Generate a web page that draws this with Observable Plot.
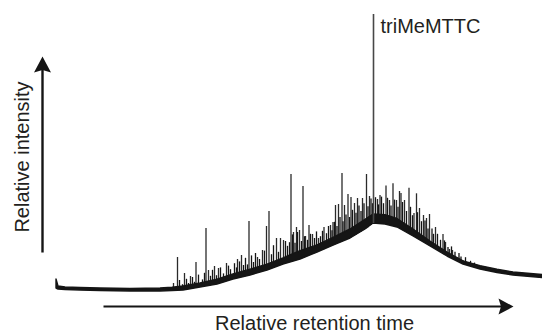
<!DOCTYPE html>
<html><head><meta charset="utf-8">
<script src="https://cdn.jsdelivr.net/npm/d3@7"></script>
<script src="https://cdn.jsdelivr.net/npm/@observablehq/plot@0.6"></script>
<style>html,body{margin:0;padding:0;background:#fff;} svg{display:block;}</style>
</head><body><div id="chart"></div>
<script>
// Chromatogram core trace (relative retention time 0-100, relative intensity 0-100)
const envTime = [2.8, 3.2, 4.6, 7.6, 11.6, 17.6, 23.6, 26, 28.2, 31.6, 35, 38.2, 41.6, 45, 48.2, 51.6, 55, 58.2, 61.6, 64.6, 66.2, 68.6, 71, 74.2, 77.6, 81, 84.2, 87.6, 91, 94.2, 100];
const envLow = [7.33, 7.0, 6.83, 6.67, 6.5, 6.33, 6.33, 6.5, 6.67, 7.67, 8.67, 10.33, 11.67, 13.33, 15.33, 17.0, 19.33, 21.67, 24.0, 27.0, 29.0, 28.67, 27.67, 24.67, 21.33, 18.0, 15.33, 13.67, 12.5, 11.67, 10.83];
const envHigh = [10.33, 8.0, 7.67, 7.5, 7.33, 7.17, 7.33, 7.6, 8.0, 9.0, 10.3, 12.0, 13.6, 15.3, 17.4, 19.8, 21.7, 24.2, 27.0, 30.2, 32.0, 31.8, 30.5, 27.0, 23.0, 19.3, 16.4, 14.8, 13.6, 12.67, 11.83];

// Unresolved noise peaks riding on the hump (retention time, apex intensity)
const noiseTime = [27.4, 28.0, 28.8, 29.2, 30.0, 30.4, 31.2, 32.0, 32.4, 33.6, 34.0, 34.8, 35.6, 36.2, 37.2, 37.6, 38.4, 38.8, 39.4, 40.2, 40.6, 41.0, 41.8, 42.2, 42.6, 43.4, 44.4, 45.8, 46.2, 47.2, 48.6, 49.0, 49.4, 50.0, 50.5, 51.0, 51.8, 52.4, 53.0, 53.6, 54.4, 54.8, 55.6, 56.0, 56.8, 57.2, 57.9, 58.4, 58.9, 59.5, 60.1, 60.7, 61.4, 62.0, 62.7, 63.3, 63.7, 64.3, 65.1, 65.7, 66.0, 66.6, 67.2, 67.8, 68.2, 69.0, 69.7, 70.4, 71.1, 72.0, 72.8, 73.6, 74.0, 75.0, 75.8, 76.5, 77.1, 77.9, 78.2, 79.0, 79.6, 80.4, 81.1, 81.8, 82.5, 83.3, 83.7, 84.6, 85.6, 86.4];
const noiseTop = [10.0, 8.6, 10.4, 9.0, 11.0, 9.4, 11.8, 10.2, 12.4, 11.4, 13.4, 11.6, 14.2, 12.2, 14.8, 13.6, 15.6, 14.2, 16.2, 15.0, 17.4, 15.2, 18.2, 16.0, 19.0, 17.0, 19.8, 18.6, 21.6, 19.4, 23.0, 21.4, 22.6, 25.2, 22.4, 26.0, 23.0, 24.6, 23.4, 25.4, 24.0, 26.2, 24.6, 26.4, 25.6, 28.0, 26.6, 29.4, 28.0, 31.0, 29.6, 31.8, 31.0, 33.4, 32.4, 34.8, 33.0, 35.6, 34.6, 37.2, 35.6, 37.6, 35.2, 37.8, 35.6, 37.4, 34.8, 36.8, 34.4, 36.0, 33.0, 34.4, 31.6, 32.6, 29.6, 29.8, 27.2, 27.2, 25.4, 25.4, 23.4, 23.2, 21.0, 21.2, 19.4, 19.0, 17.8, 17.6, 16.4, 15.8];

// Resolved peaks (retention time, apex intensity)
const peakTime = [26.2, 27.0, 28.4, 29.6, 30.7, 32.7, 33.2, 34.4, 35.2, 36.8, 39.0, 39.8, 41.3, 43.0, 44.0, 44.8, 45.3, 46.8, 47.6, 48.2, 49.7, 50.2, 50.8, 51.4, 52.1, 52.6, 53.3, 54.0, 55.2, 56.3, 57.6, 58.1, 58.6, 59.2, 59.9, 60.4, 61.1, 61.7, 62.4, 63.0, 64.0, 64.8, 65.4, 67.0, 67.5, 68.7, 69.4, 70.1, 70.8, 71.4, 71.7, 72.4, 73.3, 74.3, 74.8, 75.4, 76.2, 76.8, 77.4, 78.6, 80.1, 80.6, 81.4, 82.0, 82.9, 84.1, 85.2, 86.0];
const peakTop = [9.0, 17.67, 12.33, 11.33, 16.0, 27.33, 13.33, 14.67, 14.0, 15.67, 17.0, 18.33, 29.67, 17.67, 20.0, 28.0, 33.0, 24.0, 24.0, 23.33, 45.33, 26.0, 27.67, 26.67, 41.33, 24.67, 28.33, 25.33, 24.0, 27.67, 28.33, 29.33, 35.0, 35.33, 45.67, 35.0, 38.67, 37.67, 35.67, 37.33, 37.33, 45.33, 38.0, 37.0, 38.33, 41.5, 36.67, 42.23, 36.67, 39.67, 39.0, 36.67, 40.77, 32.33, 38.9, 34.0, 31.67, 30.67, 32.0, 27.67, 25.33, 22.67, 20.33, 20.0, 17.67, 16.67, 16.0, 15.67];

// Labelled compound
const mainName = "triMeMTTC";
const mainTime = 66.2;
const mainTop = 98.67;

// Axis titles
const xTitle = "Relative retention time";
const yTitle = "Relative intensity";

const envelope = envTime.map((t, i) => ({t, lo: envLow[i], hi: envHigh[i]}));
const baseAt = d3.scaleLinear().domain(envTime).range(envLow);
const noise = noiseTime.map((t, i) => ({t, top: noiseTop[i], base: baseAt(t)}));
const peaks = peakTime.map((t, i) => ({t, top: peakTop[i], base: baseAt(t)}));
const main = [{name: mainName, t: mainTime, top: mainTop, base: baseAt(mainTime)}];

const yArrow = [{t: 0, from: 19.33, shaftTo: 81.5, tip: 84.67}];
const xArrow = [{y: 1.33, from: 12.2, shaftTo: 92.0, tip: 94.2}];

const headUp = {draw(ctx) { ctx.moveTo(0, 0); ctx.lineTo(8.5, 16); ctx.lineTo(0, 13.5); ctx.lineTo(-8.5, 16); ctx.closePath(); }};
const headRight = {draw(ctx) { ctx.moveTo(0, 0); ctx.lineTo(-15, -8); ctx.lineTo(-12.5, 0); ctx.lineTo(-15, 8); ctx.closePath(); }};

const ink = "#151515";
const textInk = "#231f20";

const chart = Plot.plot({
  width: 542,
  height: 334,
  margin: 0,
  style: {fontFamily: "'Liberation Sans', Arial, sans-serif", background: "#fff"},
  x: {domain: [0, 100], range: [42, 542], axis: null},
  y: {domain: [0, 100], range: [310, 10], axis: null},
  marks: [
    Plot.ruleX(peaks, {x: "t", y1: "base", y2: "top", stroke: "#2a2a2a", strokeWidth: 1.3}),
    Plot.ruleX(noise, {x: "t", y1: "base", y2: "top", stroke: ink, strokeWidth: 1.3}),
    Plot.areaY(envelope, {x: "t", y1: "lo", y2: "hi", fill: ink, stroke: ink, strokeWidth: 1.4}),
    Plot.ruleX(main, {x: "t", y1: "base", y2: "top", stroke: "#474747", strokeWidth: 1.6}),
    Plot.text(main, {x: "t", y: "top", text: "name", textAnchor: "start", lineAnchor: "top", dx: 7, dy: 4, fontSize: 20, fill: textInk}),
    Plot.link(yArrow, {x1: "t", x2: "t", y1: "from", y2: "shaftTo", stroke: ink, strokeWidth: 2.4}),
    Plot.dot(yArrow, {x: "t", y: "tip", symbol: headUp, fill: ink, r: 5}),
    Plot.link(xArrow, {x1: "from", x2: "shaftTo", y1: "y", y2: "y", stroke: ink, strokeWidth: 2.2}),
    Plot.dot(xArrow, {x: "tip", y: "y", symbol: headRight, fill: ink, r: 5}),
    Plot.text([xTitle], {x: 54.4, y: -4.2, text: d => d, fontSize: 20, fill: textInk}),
    Plot.text([yTitle], {x: -4.08, y: 51.17, text: d => d, rotate: -90, fontSize: 20, fill: textInk})
  ]
});
document.getElementById("chart").appendChild(chart);
</script>
</body></html>
